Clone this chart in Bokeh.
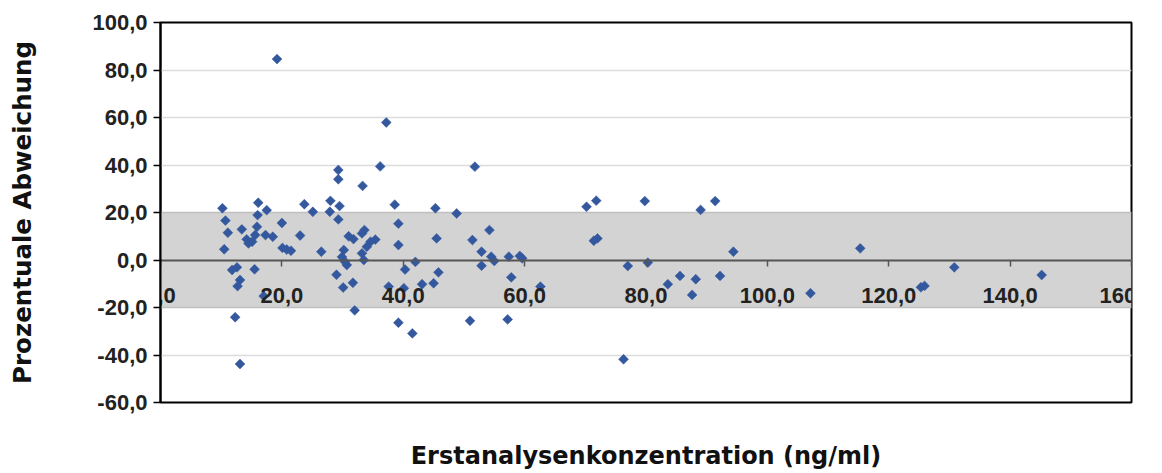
from bokeh.plotting import figure
from bokeh.models import (FixedTicker, CustomJSTickFormatter, BoxAnnotation, LinearAxis,
                          ColumnDataSource, Range1d)
from bokeh.embed import file_html
from bokeh.resources import INLINE
import math

# ---- data ----
konzentration = [
    10.2, 10.7, 11.1, 10.5, 11.8, 12.6, 13.1, 12.7, 12.3, 13.1,
    13.4, 14.2, 14.5, 15.1, 15.5, 15.9, 15.6, 16.1, 16.0, 17.5,
    17.3, 18.5, 17.0, 19.2, 20.0, 20.1, 20.8, 21.5, 23.0, 23.7,
    25.1, 26.5, 28.0, 27.9, 29.5, 29.3, 29.3, 29.3, 29.0, 30.1,
    30.2, 29.9, 30.4, 30.7, 31.0, 31.8, 31.7, 32.0, 33.3, 33.6,
    33.2, 34.6, 35.4, 34.0, 33.2, 33.5, 36.2, 37.2, 38.6, 39.2,
    39.2, 40.3, 42.0, 37.6, 40.1, 39.2, 41.5, 43.1, 45.0, 45.8,
    45.5, 45.3, 48.8, 51.8, 51.4, 52.9, 52.9, 54.2, 54.5, 55.0,
    51.0, 57.4, 59.2, 59.6, 57.8, 62.6, 57.2, 70.2, 71.8, 71.4,
    72.0, 79.8, 89.0, 91.4, 77.0, 80.3, 83.6, 85.6, 88.2, 87.6,
    92.2, 76.3, 94.4, 107.1, 115.3, 125.3, 125.9, 130.8, 145.2,
]
abweichung = [
    21.8, 16.6, 11.5, 4.5, -4.2, -3.1, -8.4, -11.0, -24.1, -43.8,
    12.9, 8.7, 7.0, 7.7, -3.9, 14.0, 10.5, 24.1, 18.9, 21.0,
    10.5, 9.8, -15.2, 84.6, 15.6, 5.1, 4.4, 3.9, 10.3, 23.5,
    20.3, 3.5, 24.9, 20.3, 22.7, 17.1, 37.9, 34.0, -6.2, -11.6,
    4.2, 1.3, -0.7, -2.1, 10.0, 8.8, -9.6, -21.2, 31.2, 12.6,
    11.2, 7.7, 8.6, 5.6, 2.8, 0.0, 39.4, 57.9, 23.3, 15.3,
    6.3, -4.0, -0.8, -11.2, -11.9, -26.4, -30.9, -10.2, -9.8, -5.2,
    9.1, 21.8, 19.6, 39.3, 8.4, 3.5, -2.4, 12.6, 1.4, -0.4,
    -25.6, 1.4, 1.7, 0.7, -7.3, -11.2, -25.0, 22.4, 25.0, 8.1,
    9.1, 24.8, 21.1, 24.8, -2.5, -1.1, -10.2, -6.7, -8.1, -14.7,
    -6.7, -41.8, 3.5, -14.0, 4.9, -11.5, -10.9, -3.1, -6.3,
]
x_ticks = [0, 20, 40, 60, 80, 100, 120, 140, 160]
y_ticks = [-60, -40, -20, 0, 20, 40, 60, 80, 100]
band_lo, band_hi = -20, 20
x_title = "Erstanalysenkonzentration (ng/ml)"
y_title = "Prozentuale Abweichung"

src = ColumnDataSource(dict(x=konzentration, y=abweichung))

p = figure(width=1154, height=472, output_backend="svg", toolbar_location=None,
           x_range=Range1d(x_ticks[0], x_ticks[-1]), y_range=Range1d(y_ticks[0], y_ticks[-1]),
           min_border_left=160, min_border_right=23, min_border_top=22, min_border_bottom=70)
p.background_fill_color = "white"
p.border_fill_color = "white"
p.outline_line_color = "black"
p.outline_line_width = 2

fmt = CustomJSTickFormatter(code="return tick.toFixed(1).replace('.', ',');")

# band
p.add_layout(BoxAnnotation(bottom=band_lo, top=band_hi, fill_color="#d3d3d3", fill_alpha=1,
                           line_color="#8a8a8a", line_width=1.5, level="underlay"))

# grid
p.xgrid.visible = False
p.ygrid.ticker = FixedTicker(ticks=y_ticks)
p.ygrid.grid_line_color = "#dcdcdc"
p.ygrid.grid_line_width = 1.5

tick_font = "Liberation Sans"
tick_size = "22px"
title_font = "DejaVu Sans"

# y axis
ya = p.yaxis[0]
ya.ticker = FixedTicker(ticks=y_ticks)
ya.formatter = fmt
ya.axis_line_color = "black"
ya.axis_line_width = 2
ya.major_tick_line_color = "black"
ya.major_tick_line_width = 1.5
ya.major_tick_out = 7
ya.major_tick_in = 0
ya.minor_tick_line_color = None
ya.major_label_standoff = 6
ya.major_label_text_font = tick_font
ya.major_label_text_font_style = "bold"
ya.major_label_text_font_size = tick_size
ya.major_label_text_color = "#222222"
ya.axis_label = y_title
ya.axis_label_text_font = title_font
ya.axis_label_text_font_style = "bold"
ya.axis_label_text_font_size = "24.5px"
ya.axis_label_text_color = "#111111"
ya.axis_label_standoff = 52

# x axis, crossing at y = 0
xa = p.xaxis[0]
xa.fixed_location = 0
xa.ticker = FixedTicker(ticks=x_ticks)
xa.formatter = fmt
xa.axis_line_color = "#555555"
xa.axis_line_width = 2
xa.major_tick_line_color = "#555555"
xa.major_tick_line_width = 1.5
xa.major_tick_out = 6
xa.major_tick_in = 0
xa.minor_tick_line_color = None
xa.major_label_standoff = 22
xa.major_label_text_font = tick_font
xa.major_label_text_font_style = "bold"
xa.major_label_text_font_size = tick_size
xa.major_label_text_color = "#222222"

# second bottom axis carrying only the title
xt = LinearAxis(ticker=FixedTicker(ticks=[]), axis_label=x_title)
xt.axis_line_color = None
xt.major_tick_out = 0
xt.major_tick_in = 0
xt.minor_tick_line_color = None
xt.major_label_standoff = 0
xt.axis_label_standoff = 39
xt.axis_label_text_font = title_font
xt.axis_label_text_font_style = "bold"
xt.axis_label_text_font_size = "24px"
xt.axis_label_text_color = "#111111"
p.add_layout(xt, "below")

p.scatter("x", "y", source=src, marker="square", angle=math.pi / 4, size=7,
          fill_color="#34589e", line_color="#34589e", line_width=0.5)

open("out.html", "w").write(file_html(p, INLINE))
